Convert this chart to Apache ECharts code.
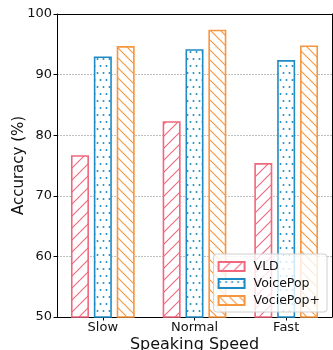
<!DOCTYPE html>
<html>
<head>
<meta charset="utf-8">
<script src="https://cdn.jsdelivr.net/npm/echarts@6/dist/echarts.min.js"></script>
<style>
html,body{margin:0;padding:0;background:#fff;}
#chart{width:333px;height:350px;}
</style>
</head>
<body>
<div id="chart"></div>
<script>
var categories = ['Slow', 'Normal', 'Fast'];
var seriesNames = ['VLD', 'VoicePop', 'VociePop+'];
var vldValues = [76.7, 82.3, 75.4];
var voicePopValues = [93.0, 94.2, 92.4];
var vociePopPlusValues = [94.7, 97.4, 94.8];
var yTicks = [50, 60, 70, 80, 90, 100];

var FONT = 'DejaVu Sans';
var cPink = '#f0677e', cBlue = '#1f8bc4', cOrange = '#f6963f';

function hatchTile(color, s, dir) {
  var c = document.createElement('canvas');
  c.width = s; c.height = s;
  var g = c.getContext('2d');
  g.fillStyle = '#fff'; g.fillRect(0, 0, s, s);
  g.strokeStyle = color; g.lineWidth = 1.1; g.globalAlpha = 1;
  g.beginPath();
  if (dir === '/') {
    g.moveTo(0, s); g.lineTo(s, 0);
    g.moveTo(-2, 2); g.lineTo(2, -2);
    g.moveTo(s - 2, s + 2); g.lineTo(s + 2, s - 2);
  } else {
    g.moveTo(0, 0); g.lineTo(s, s);
    g.moveTo(-2, s - 2); g.lineTo(2, s + 2);
    g.moveTo(s - 2, -2); g.lineTo(s + 2, 2);
  }
  g.stroke();
  return c;
}
function dotTile(color) {
  var c = document.createElement('canvas');
  c.width = 6; c.height = 14;
  var g = c.getContext('2d');
  g.fillStyle = '#fff'; g.fillRect(0, 0, 6, 14);
  g.fillStyle = color;
  g.beginPath(); g.arc(1.5, 3, 1, 0, Math.PI * 2); g.fill();
  g.beginPath(); g.arc(4.5, 10, 1, 0, Math.PI * 2); g.fill();
  return c;
}

var patterns = [
  {image: hatchTile(cPink, 12, '/'), repeat: 'repeat'},
  {image: dotTile(cBlue), repeat: 'repeat'},
  {image: hatchTile(cOrange, 10, '\\'), repeat: 'repeat'}
];
var borders = [cPink, cBlue, cOrange];
var dataSets = [vldValues, voicePopValues, vociePopPlusValues];

var chart = echarts.init(document.getElementById('chart'), null, {renderer: 'canvas'});

var series = seriesNames.map(function (n, i) {
  return {
    name: n, type: 'bar', data: dataSets[i],
    barWidth: 18, barGap: '27%',
    itemStyle: {color: patterns[i], borderColor: borders[i], borderWidth: 1.6}
  };
});

chart.setOption({
  animation: false,
  backgroundColor: '#fff',
  textStyle: {fontFamily: FONT},
  grid: {left: 57, right: 1, top: 14, bottom: 33, containLabel: false, outerBoundsMode: 'none'},
  legend: {
    orient: 'vertical', right: 6, bottom: 38,
    data: seriesNames,
    icon: 'rect', itemWidth: 26, itemHeight: 9, itemGap: 4,
    padding: [6, 7, 5, 4],
    backgroundColor: 'rgba(255,255,255,0.8)',
    borderColor: '#d0d0d0', borderWidth: 1, borderRadius: 3,
    textStyle: {fontFamily: FONT, fontSize: 12.5, color: '#111', padding: [0, 0, 0, 4]}
  },
  xAxis: [{
    type: 'category', data: categories, position: 'bottom',
    name: 'Speaking Speed', nameLocation: 'middle', nameGap: 20, nameMoveOverlap: false,
    nameTextStyle: {fontFamily: FONT, fontSize: 16, color: '#111'},
    axisLine: {lineStyle: {color: '#000', width: 1}},
    axisTick: {show: true, alignWithLabel: true, length: 3.5, lineStyle: {color: '#000'}},
    axisLabel: {fontFamily: FONT, fontSize: 13, color: '#111', margin: 4}
  }, {
    type: 'category', data: categories, position: 'top',
    axisLine: {lineStyle: {color: '#000', width: 1}},
    axisTick: {show: false}, axisLabel: {show: false}
  }],
  yAxis: [{
    type: 'value', min: yTicks[0], max: yTicks[yTicks.length - 1], interval: 10,
    name: 'Accuracy (%)', nameLocation: 'middle', nameGap: 30, nameMoveOverlap: false,
    nameTextStyle: {fontFamily: FONT, fontSize: 15, color: '#111'},
    axisLine: {show: true, lineStyle: {color: '#000', width: 1}},
    axisTick: {show: true, length: 3.5, lineStyle: {color: '#000'}},
    axisLabel: {fontFamily: FONT, fontSize: 13, color: '#111', margin: 5},
    splitLine: {show: true, lineStyle: {color: '#b0b0b0', type: [2, 1], width: 0.8}}
  }, {
    type: 'value', min: yTicks[0], max: yTicks[yTicks.length - 1], interval: 10,
    position: 'right',
    axisLine: {show: true, lineStyle: {color: '#000', width: 1}},
    axisTick: {show: false}, axisLabel: {show: false}, splitLine: {show: false}
  }],
  series: series
});
</script>
</body>
</html>
